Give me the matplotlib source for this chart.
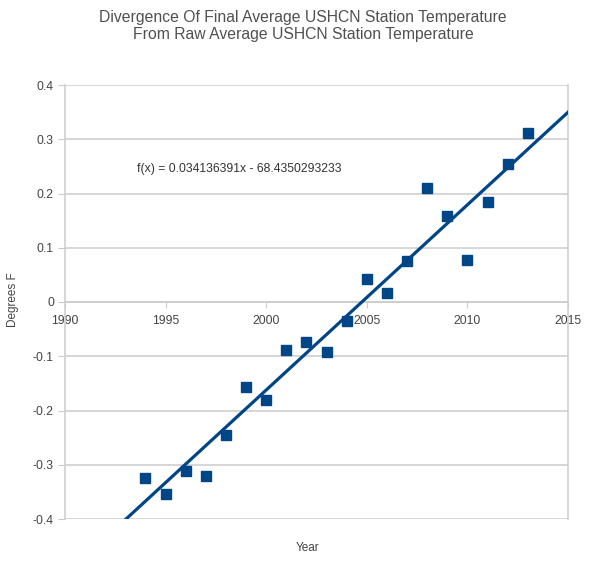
import matplotlib
matplotlib.use("Agg")
import matplotlib.pyplot as plt
import numpy as np

# data
years = [1994, 1995, 1996, 1997, 1998, 1999, 2000, 2001, 2002, 2003,
         2004, 2005, 2006, 2007, 2008, 2009, 2010, 2011, 2012, 2013]
divergence = [-0.324, -0.353, -0.311, -0.321, -0.245, -0.156, -0.181, -0.088, -0.073, -0.092,
              -0.035, 0.042, 0.017, 0.075, 0.211, 0.159, 0.078, 0.184, 0.255, 0.311]

slope = 0.034136391
intercept = -68.4350293233

x_ticks = [1990, 1995, 2000, 2005, 2010, 2015]
y_ticks = [-0.4, -0.3, -0.2, -0.1, 0, 0.1, 0.2, 0.3, 0.4]
y_tick_labels = ["-0.4", "-0.3", "-0.2", "-0.1", "0", "0.1", "0.2", "0.3", "0.4"]

plt.rcParams['font.family'] = ['Liberation Sans', 'DejaVu Sans']

blue = "#004586"
grid_col = "#cccccc"
text_col = "#444444"

fig = plt.figure(figsize=(5.93, 5.62), dpi=100)
ax = fig.add_axes([65/593, 1 - 519/562, (568 - 65)/593, (519 - 85)/562])

ax.set_xlim(1990, 2015)
ax.set_ylim(-0.4, 0.4)

# trend line
xt = np.array([1990, 2015])
ax.plot(xt, slope*xt + intercept, color=blue, lw=2.3, zorder=3)

ax.plot(years, divergence, linestyle="none", marker="s", markersize=7.5,
        color=blue, zorder=4)

ax.set_yticks(y_ticks)
ax.set_yticklabels(y_tick_labels)
ax.set_xticks(x_ticks)
ax.yaxis.grid(True, color=grid_col, lw=1.1)
ax.set_axisbelow(True)

for s in ["top", "left", "right"]:
    ax.spines[s].set_color(grid_col)
    ax.spines[s].set_linewidth(1.1)
ax.spines["top"].set_visible(False)
ax.spines["bottom"].set_position(("data", 0))
ax.spines["bottom"].set_color(grid_col)
ax.spines["bottom"].set_linewidth(1.1)

ax.tick_params(axis="x", direction="out", length=4, color=grid_col,
               labelsize=8.8, labelcolor=text_col, pad=5)
ax.tick_params(axis="y", direction="out", length=5, color=grid_col,
               labelsize=8.8, labelcolor=text_col, pad=3)

ax.text(1993.6, 0.246, "f(x) = 0.034136391x - 68.4350293233", fontsize=8.7,
        color="#333333", va="center", ha="left")

fig.text(303/593, 1 - 26/562,
         "Divergence Of Final Average USHCN Station Temperature\nFrom Raw Average USHCN Station Temperature",
         ha="center", va="center", fontsize=11.3, color="#505050", linespacing=1.15)

fig.text(13/593, 1 - 300/562, "Degrees F", rotation=90, ha="center", va="center",
         fontsize=8.5, color=text_col)
fig.text(308/593, 1 - 548/562, "Year", ha="center", va="center",
         fontsize=8.5, color=text_col)

fig.savefig("out.png", dpi=100, facecolor="white")
